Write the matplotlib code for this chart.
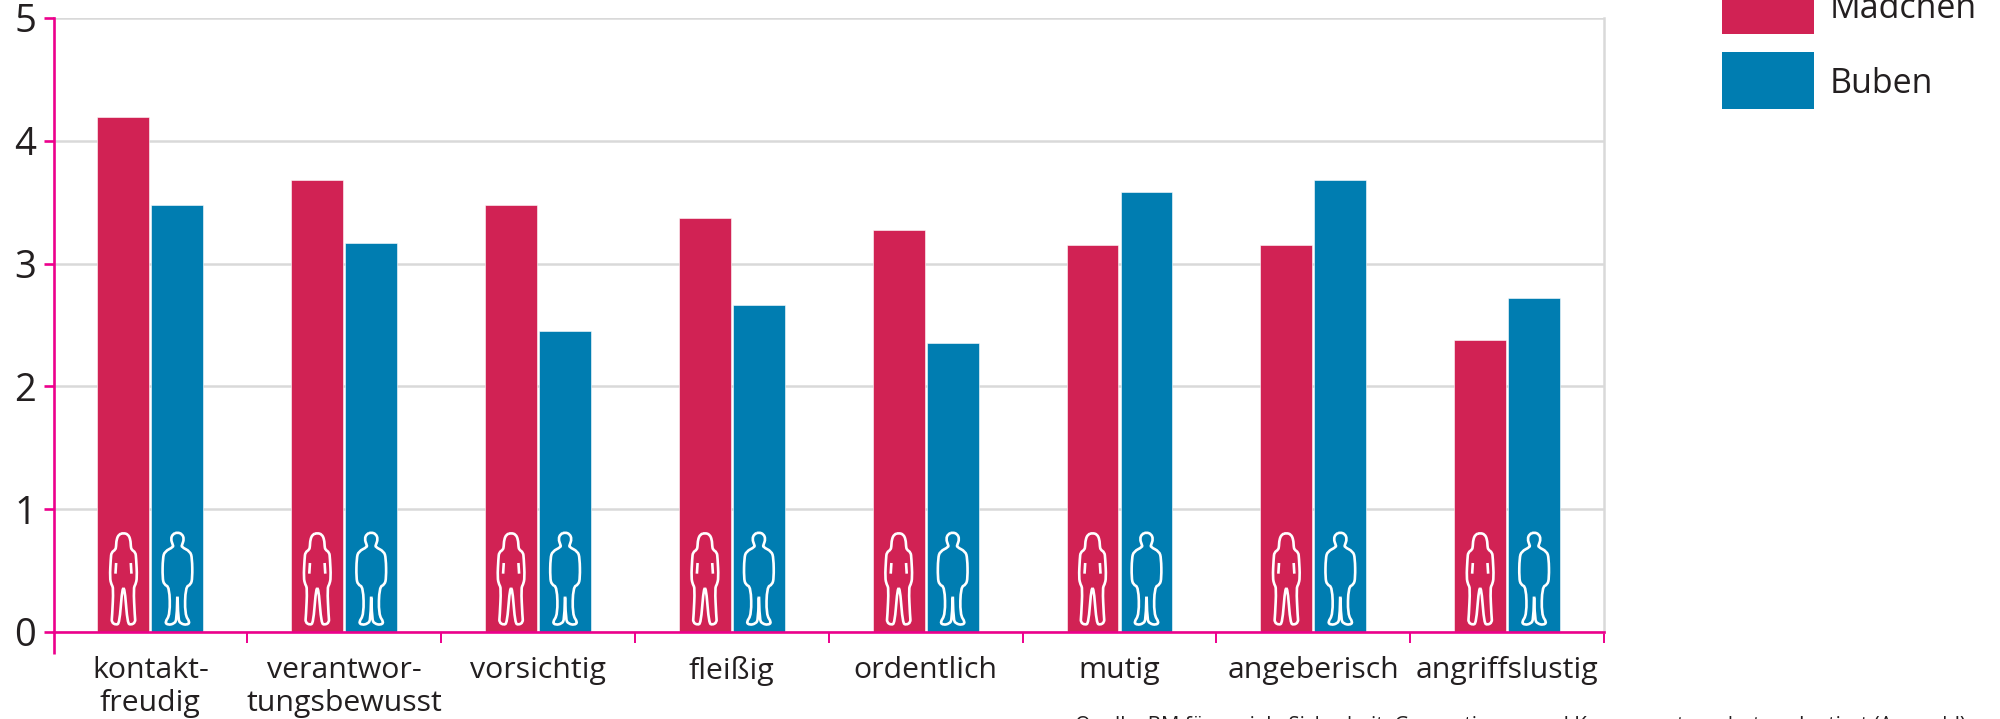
import matplotlib
matplotlib.use("Agg")
import matplotlib.pyplot as plt
from matplotlib.patches import PathPatch, Rectangle
from matplotlib.path import Path
from matplotlib.transforms import Affine2D

plt.rcParams["font.family"] = ["Open Sans", "DejaVu Sans"]

CATEGORIES = ["kontakt-\nfreudig", "verantwor-\ntungsbewusst", "vorsichtig", "fleißig",
              "ordentlich", "mutig", "angeberisch", "angriffslustig"]
MAEDCHEN = [4.19, 3.68, 3.48, 3.37, 3.27, 3.15, 3.15, 2.38]
BUBEN = [3.48, 3.17, 2.45, 2.66, 2.35, 3.58, 3.68, 2.72]
Y_TICKS = [0, 1, 2, 3, 4, 5]
SERIES_NAMES = ["Mädchen", "Buben"]
SOURCE = ("Quelle: BM für soziale Sicherheit, Generationen und "
          "Konsumentenschutz, adaptiert (Auswahl)")

RED = "#D12254"
BLUE = "#007DB1"
PINK = "#EC008C"
GRID = "#D9D9D9"
TEXT = "#231F20"

W, H = 2000, 719
LEFT, RIGHT, TOP, BASE = 53.5, 1604, 18, 632

# icon outlines: right half, px*3 from centre line, y px*3 from axis line
GIRL = [(0, 297), (14, 293), (21, 277), (22, 257), (24, 247), (36, 239), (38, 222),
        (41, 162), (36, 142), (30, 132), (34, 47), (36, 29), (22, 21), (12, 27),
        (5, 117), (0, 135)]
BOY = [(0, 299), (14, 294), (20, 279), (14, 262), (12, 255), (38, 242), (44, 222),
       (45, 162), (40, 142), (24, 135), (22, 52), (38, 29), (28, 21), (10, 25),
       (2, 37), (0, 132)]
GIRL_ARMS = [((22, 207), (24, 175))]


def outline_path(half):
    """Mirror a half outline and round the corners with quadratic curves."""
    pts = half + [(-x, y) for x, y in reversed(half[1:-1])]
    pts = [(x / 3, y / 3) for x, y in pts]
    mid = lambda a, b: ((a[0] + b[0]) / 2, (a[1] + b[1]) / 2)
    verts = [mid(pts[-1], pts[0])]
    codes = [Path.MOVETO]
    for i, p in enumerate(pts):
        verts += [p, mid(p, pts[(i + 1) % len(pts)])]
        codes += [Path.CURVE3, Path.CURVE3]
    return Path(verts, codes)


def arm_paths(lines):
    verts, codes = [], []
    for (x0, y0), (x1, y1) in lines:
        for sign in (1, -1):
            verts += [(sign * x0 / 3, y0 / 3), (sign * x1 / 3, y1 / 3)]
            codes += [Path.MOVETO, Path.LINETO]
    return Path(verts, codes)


def add_icon(ax, path, x):
    trans = (Affine2D().scale(8 / (RIGHT - LEFT), 5 / (BASE - TOP))
             .translate(x, 0) + ax.transData)
    ax.add_patch(PathPatch(path, transform=trans, facecolor="none", edgecolor="white",
                           lw=1.9, zorder=4, clip_on=False))


fig = plt.figure(figsize=(W / 100, H / 100), dpi=100)
ax = fig.add_axes([LEFT / W, (H - BASE) / H, (RIGHT - LEFT) / W, (BASE - TOP) / H])
ax.set_xlim(0, 8)
ax.set_ylim(0, 5)

bar_width = 0.268
x_red = [i + 0.361 for i in range(len(CATEGORIES))]
x_blue = [i + 0.6395 for i in range(len(CATEGORIES))]
ax.bar(x_red, MAEDCHEN, bar_width, color=RED, edgecolor="white", lw=0.4, zorder=3)
ax.bar(x_blue, BUBEN, bar_width, color=BLUE, edgecolor="white", lw=0.4, zorder=3)

girl, boy, arms = outline_path(GIRL), outline_path(BOY), arm_paths(GIRL_ARMS)
for xr, xb in zip(x_red, x_blue):
    add_icon(ax, girl, xr)
    add_icon(ax, arms, xr)
    add_icon(ax, boy, xb)

ax.set_yticks(Y_TICKS)
ax.set_xticks(range(len(CATEGORIES) + 1))
ax.set_xticklabels([])
ax.yaxis.grid(True, color=GRID, lw=1.8, zorder=1)
ax.set_axisbelow(True)

ax.spines["top"].set_visible(False)
ax.spines["right"].set_color(GRID)
ax.spines["right"].set_linewidth(1.8)
for side in ("left", "bottom"):
    ax.spines[side].set_color(PINK)
    ax.spines[side].set_linewidth(1.9)
    ax.spines[side].set_zorder(5)

ax.tick_params(axis="y", length=7.5, width=1.9, color=PINK, labelsize=27.5,
               labelcolor=TEXT, pad=5)
ax.tick_params(axis="x", length=8, width=1.4, color=PINK)
# y axis runs on below the x axis
ax.xaxis.get_major_ticks()[0].tick1line.set_markersize(16)
ax.xaxis.get_major_ticks()[0].tick1line.set_markeredgewidth(1.9)

for i, label in enumerate(CATEGORIES):
    ax.annotate(label, (i + 0.5, 0), xytext=(0, -17), textcoords="offset points",
                ha="center", va="top", fontsize=21.8, color=TEXT, linespacing=1.22,
                annotation_clip=False)

# legend drawn by hand, the top box runs off the canvas
for name, color, top in zip(SERIES_NAMES, [RED, BLUE], [-23, 52]):
    fig.add_artist(Rectangle((1722 / W, 1 - (top + 57) / H), 92 / W, 57 / H,
                             transform=fig.transFigure, facecolor=color, edgecolor="none"))
    fig.text(1830 / W, 1 - (top + 41) / H, name, fontsize=24.5, color=TEXT,
             ha="left", va="baseline")

fig.text(1075 / W, 1 - 716 / H, SOURCE, fontsize=14.8, color=TEXT, ha="left", va="top")

fig.savefig("out.png", dpi=100)
